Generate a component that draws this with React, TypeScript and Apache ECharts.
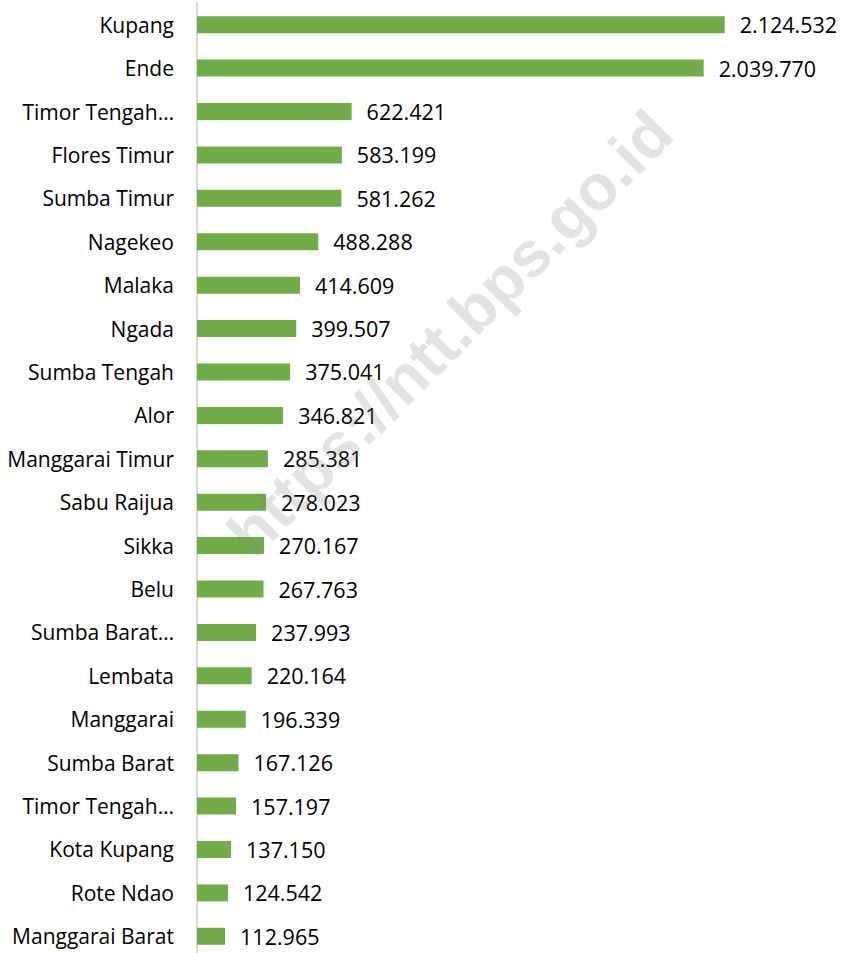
import React, { useEffect, useRef } from "react";
import * as echarts from "echarts";

const categories = [
  "Kupang",
  "Ende",
  "Timor Tengah…",
  "Flores Timur",
  "Sumba Timur",
  "Nagekeo",
  "Malaka",
  "Ngada",
  "Sumba Tengah",
  "Alor",
  "Manggarai Timur",
  "Sabu Raijua",
  "Sikka",
  "Belu",
  "Sumba Barat…",
  "Lembata",
  "Manggarai",
  "Sumba Barat",
  "Timor Tengah…",
  "Kota Kupang",
  "Rote Ndao",
  "Manggarai Barat",
];

const values = [
  2124532, 2039770, 622421, 583199, 581262, 488288, 414609, 399507, 375041,
  346821, 285381, 278023, 270167, 267763, 237993, 220164, 196339, 167126,
  157197, 137150, 124542, 112965,
];

const watermark = "https://ntt.bps.go.id";

const fmt = (v: number) =>
  String(Math.round(v)).replace(/\B(?=(\d{3})+(?!\d))/g, ".");

export default function App() {
  const ref = useRef<HTMLDivElement>(null);
  useEffect(() => {
    if (!ref.current) return;
    const chart = echarts.init(ref.current, undefined, { renderer: "svg" });
    const font = "'Open Sans', sans-serif";
    chart.setOption({
      animation: false,
      backgroundColor: "#ffffff",
      grid: { left: 197, right: 25, top: 3, height: 955, containLabel: false },
      xAxis: {
        type: "value",
        min: 0,
        max: 2500000,
        show: false,
      },
      yAxis: {
        type: "category",
        data: categories.map((c, i) => ({ value: c + "\u200b".repeat(i) })),
        inverse: true,
        axisLine: { show: true, lineStyle: { color: "#d9d9d9", width: 2 } },
        axisTick: { show: false },
        axisLabel: {
          margin: 23,
          color: "#000000",
          fontFamily: font,
          fontSize: 21,
          formatter: (v: string) => v.replace(/\u200b/g, ""),
        },
        splitLine: { show: false },
      },
      series: [
        {
          type: "bar",
          data: values,
          barWidth: 17,
          itemStyle: { color: "#70ad47" },
          label: {
            show: true,
            position: "right",
            distance: 15,
            color: "#000000",
            fontFamily: font,
            fontSize: 21.5,
            formatter: (p: any) => fmt(p.value),
          },
        },
      ],
      graphic: [
        {
          type: "text",
          x: 450,
          y: 333,
          rotation: Math.PI / 4,
          z: 100,
          style: {
            text: watermark,
            fill: "rgba(128,128,128,0.22)",
            font: "bold 64px 'Liberation Sans', Arial, sans-serif",
            textAlign: "center",
            textVerticalAlign: "middle",
          },
        },
      ],
    });
    return () => chart.dispose();
  }, []);
  return (
    <div
      ref={ref}
      style={{ position: "fixed", left: 0, top: 0, width: 843, height: 962 }}
    />
  );
}
